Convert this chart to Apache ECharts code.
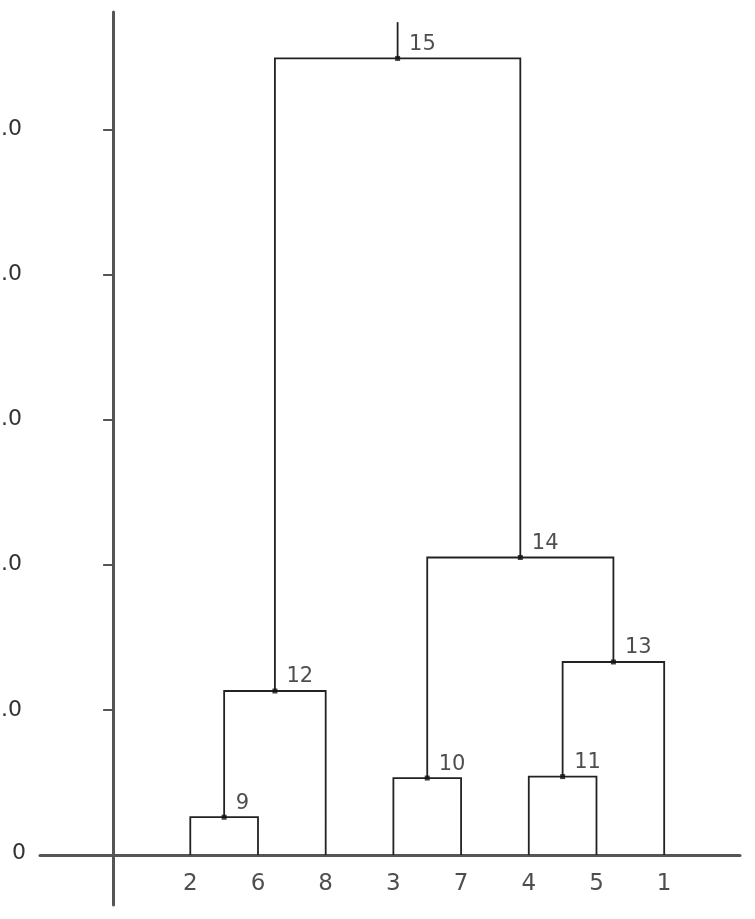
<!DOCTYPE html>
<html><head><meta charset="utf-8">
<script src="https://cdn.jsdelivr.net/npm/echarts@6/dist/echarts.min.js"></script>
<style>html,body{margin:0;background:#fff}#c{width:755px;height:919px}</style>
</head><body><div id="c"></div>
<script>
// leaf order along the axis and their x positions
const leafOrder = [2, 6, 8, 3, 7, 4, 5, 1]
const leafX = [1.14, 2.14, 3.14, 4.14, 5.14, 6.14, 7.14, 8.14]
// merges: [node id, left child, right child, height]
const merges = [
  [9, 2, 6, 0.26],
  [10, 3, 7, 0.53],
  [11, 4, 5, 0.54],
  [12, 9, 8, 1.13],
  [13, 11, 1, 1.33],
  [14, 10, 13, 2.05],
  [15, 12, 14, 5.49]
]
const rootTop = 5.74
const yTicks = [1, 2, 3, 4, 5]

const pos = {}
leafOrder.forEach((id, i) => { pos[id] = [leafX[i], 0] })
const segs = []
merges.forEach(([id, a, b, h]) => {
  const pa = pos[a], pb = pos[b]
  segs.push([pa[0], pa[1], pa[0], h, pb[0], h, pb[0], pb[1]])
  pos[id] = [(pa[0] + pb[0]) / 2, h]
})
const root = pos[15]
segs.push([root[0], root[1], root[0], rootTop])

const nodePts = merges.map(m => [pos[m[0]][0], pos[m[0]][1], m[0]])
const leafPts = leafOrder.map((id, i) => [leafX[i], 0, id])

const font = "DejaVu Sans"
const chart = echarts.init(document.getElementById("c"))
chart.setOption({
  animation: false,
  grid: { left: 40, right: 15, top: 12, bottom: 14, outerBoundsMode: "none", containLabel: false },
  xAxis: {
    type: "value", min: -1.08, max: 9.26,
    axisLine: { onZero: true, lineStyle: { color: "#555", width: 3 } },
    axisTick: { show: false }, axisLabel: { show: false }, splitLine: { show: false }
  },
  yAxis: {
    type: "value", min: -0.345, max: 5.81,
    axisLine: { onZero: true, lineStyle: { color: "#555", width: 3 } },
    axisTick: { show: true, customValues: yTicks, length: 10, lineStyle: { color: "#555", width: 2 } },
    axisLabel: {
      customValues: yTicks, formatter: v => v.toFixed(1), margin: 18,
      color: "#333", fontSize: 22, fontFamily: font
    },
    splitLine: { show: false }
  },
  graphic: [{
    type: "text", left: 12, top: 842,
    style: { text: "0", fontSize: 22, fontFamily: font, fill: "#333" }
  }],
  series: [
    {
      type: "custom", coordinateSystem: "cartesian2d",
      data: segs.map(s => [s[0], s[1]]),
      renderItem: function (params, api) {
        const s = segs[params.dataIndex]
        const pts = []
        for (let i = 0; i < s.length; i += 2) pts.push(api.coord([s[i], s[i + 1]]))
        return { type: "polyline", shape: { points: pts }, style: { stroke: "#222", lineWidth: 1.8, fill: null } }
      },
      z: 3
    },
    {
      type: "scatter", data: nodePts, symbol: "rect", symbolSize: 5,
      itemStyle: { color: "#111" },
      label: {
        show: true, formatter: p => p.data[2], position: "right", offset: [4, -14],
        fontSize: 21, fontFamily: font, color: "#222"
      },
      z: 4
    },
    {
      type: "scatter", data: leafPts, symbolSize: 0,
      label: {
        show: true, formatter: p => p.data[2], position: "bottom", distance: 18,
        fontSize: 23, fontFamily: font, color: "#222"
      }
    }
  ]
})
</script></body></html>
